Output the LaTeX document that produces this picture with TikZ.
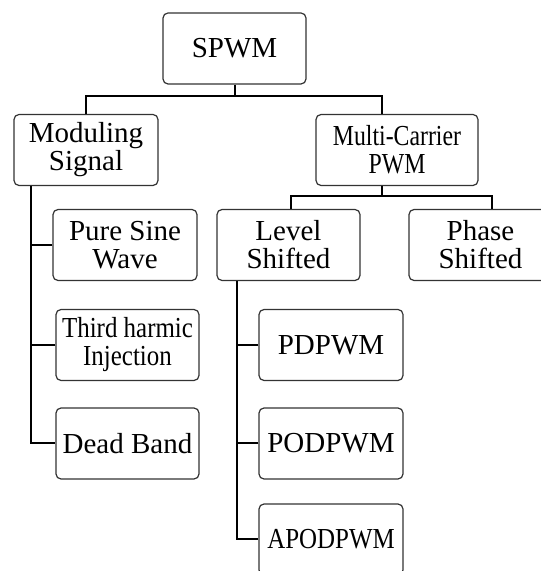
\documentclass[tikz,border=0pt]{standalone}
\usepackage{fontspec}
\setmainfont{Liberation Serif}
\newfontfamily\boxfont{Liberation Serif}
\usetikzlibrary{positioning,calc}
\newcommand{\squeeze}[2][.86]{\scalebox{#1}[1]{#2}}

\begin{document}
\begin{tikzpicture}[x=1pt,y=1pt,
    box/.style={draw=black!80, line width=1.2pt, rounded corners=5pt, align=center,
        minimum width=143pt, minimum height=71pt, inner sep=0pt,
        font=\boxfont\fontsize{29}{28}\selectfont},
    link/.style={draw=black, line width=2pt}]
    % page frame (the figure is cut at the right and bottom edge)
    \clip (0,0) rectangle (541,571);

    % top level
    \node[box] (spwm) at (234.5,522.5) {SPWM};
    \node[box, minimum width=144pt] (mod) at (86,421) {Moduling\\Signal};
    \node[box, minimum width=162pt] (mc) at (397,421) {\squeeze[.82]{Multi-Carrier}\\\squeeze[.82]{PWM}};

    % moduling signal branch
    \node[box, minimum width=144pt] (pure) at (125,326) {Pure Sine\\Wave};
    \node[box] (third) at (127.5,226) {\squeeze{Third harmic}\\\squeeze{Injection}};
    \node[box] (dead) at (127.5,127.5) {Dead Band};

    % multi-carrier branch
    \node[box] (level) at (288.5,326) {Level\\Shifted};
    \node[box] (phase) at (480.5,326) {Phase\\Shifted};
    \node[box, minimum width=144pt] (pd) at (331,226) {PDPWM};
    \node[box, minimum width=144pt] (pod) at (331,127.5) {PODPWM};
    \node[box, minimum width=144pt] (apod) at (331,31.5) {\squeeze{APODPWM}};

    % connectors
    \draw[link] (spwm.south) -- ++(0,-11.5) coordinate (bus1);
    \draw[link] (mod.north) |- (bus1) -| ([xshift=-15pt]mc.north);
    \draw[link] ([xshift=-15pt]mc.south) -- ++(0,-9.5) coordinate (bus2);
    \draw[link] ([xshift=2.5pt]level.north) |- (bus2) -| ([xshift=11.5pt]phase.north);

    \coordinate (modtrunk) at ([xshift=18pt]mod.south west);
    \draw[link] (modtrunk) |- (dead.west);
    \foreach \n in {pure,third}
        \draw[link] (\n.west) -- (\n.west -| modtrunk);

    \coordinate (lvtrunk) at ([xshift=21pt]level.south west);
    \draw[link] (lvtrunk) |- (apod.west);
    \foreach \n in {pd,pod}
        \draw[link] (\n.west) -- (\n.west -| lvtrunk);
\end{tikzpicture}
\end{document}
